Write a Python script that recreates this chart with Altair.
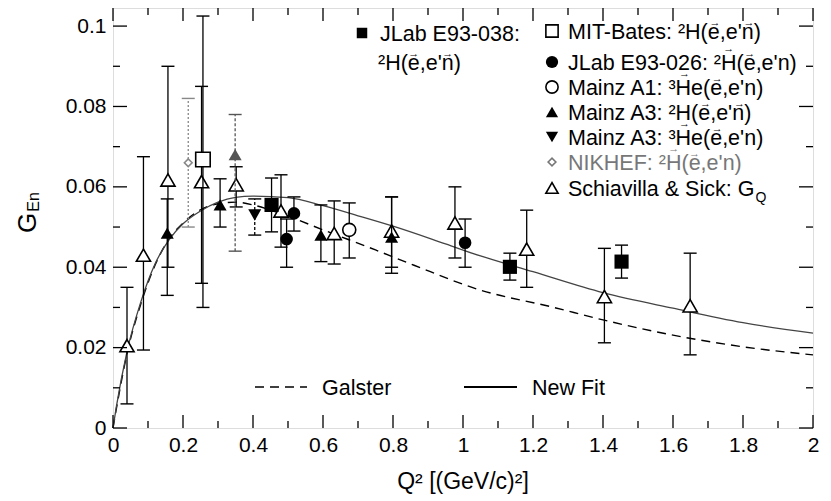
import altair as alt
import pandas as pd

FONT = "Liberation Sans"
W, H = 700, 420
X_DOMAIN = [0, 2]
Y_DOMAIN = [0, 0.1045]

x_major = [0, 0.2, 0.4, 0.6, 0.8, 1.0, 1.2, 1.4, 1.6, 1.8, 2.0]
x_minor = [0.1, 0.3, 0.5, 0.7, 0.9, 1.1, 1.3, 1.5, 1.7, 1.9]
y_major = [0, 0.02, 0.04, 0.06, 0.08, 0.1]
y_minor = [0.01, 0.03, 0.05, 0.07, 0.09]

# ---- data (Q^2, G_En, lower, upper) ----
jlab038_q2 = [0.453, 1.134, 1.453]
jlab038_gen = [0.0555, 0.0401, 0.0414]
jlab038_lo = [0.0488, 0.0368, 0.0373]
jlab038_hi = [0.0622, 0.0435, 0.0455]

mit_q2 = [0.257]
mit_gen = [0.0668]
mit_lo = [0.030]
mit_hi = [0.1025]

jlab026_q2 = [0.496, 0.517, 1.006]
jlab026_gen = [0.047, 0.0534, 0.0461]
jlab026_lo = [0.040, 0.049, 0.040]
jlab026_hi = [0.052, 0.0575, 0.052]

mainzA1_q2 = [0.675]
mainzA1_gen = [0.0493]
mainzA1_lo = [0.0423]
mainzA1_hi = [0.056]

mainzA3d_q2 = [0.155, 0.306, 0.594, 0.796]
mainzA3d_gen = [0.0485, 0.0555, 0.048, 0.0475]
mainzA3d_lo = [0.033, 0.050, 0.0414, 0.0385]
mainzA3d_hi = [0.057, 0.062, 0.0555, 0.0575]

mainzA3d_faint_q2 = [0.349]
mainzA3d_faint_gen = [0.068]
mainzA3d_faint_lo = [0.044]
mainzA3d_faint_hi = [0.078]

mainzA3he_q2 = [0.405]
mainzA3he_gen = [0.053]
mainzA3he_lo = [0.048]
mainzA3he_hi = [0.057]

nikhef_q2 = [0.215]
nikhef_gen = [0.066]
nikhef_lo = [0.050]
nikhef_hi = [0.082]

ss_q2 = [0.040, 0.087, 0.157, 0.253, 0.352, 0.48, 0.632, 0.796, 0.977, 1.182, 1.404, 1.649]
ss_gen = [0.0205, 0.043, 0.0617, 0.0613, 0.0605, 0.054, 0.0484, 0.049, 0.051, 0.0445, 0.0327, 0.0304]
ss_lo = [0.006, 0.0194, 0.040, 0.036, 0.055, 0.045, 0.0408, 0.040, 0.0423, 0.035, 0.0212, 0.0182]
ss_hi = [0.035, 0.0675, 0.090, 0.085, 0.065, 0.063, 0.0565, 0.0575, 0.060, 0.0542, 0.0447, 0.0435]

galster_q2 = [0, 0.01, 0.04, 0.08, 0.12, 0.16, 0.2, 0.25, 0.3, 0.35, 0.4, 0.45, 0.5, 0.6,
              0.75, 0.86, 1.05, 1.25, 1.4, 1.6, 1.8, 2.0]
galster_gen = [0, 0.005, 0.0185, 0.031, 0.0405, 0.047, 0.051, 0.0543, 0.0558, 0.0562, 0.0555,
               0.0542, 0.0527, 0.0493, 0.0443, 0.0405, 0.0343, 0.0302, 0.0269, 0.0231, 0.0202, 0.0182]

newfit_q2 = [0, 0.01, 0.04, 0.08, 0.12, 0.16, 0.2, 0.25, 0.3, 0.35, 0.4, 0.5, 0.6, 0.7, 0.8,
             0.95, 1.05, 1.2, 1.4, 1.6, 1.8, 2.0]
newfit_gen = [0, 0.0055, 0.019, 0.0315, 0.0408, 0.0468, 0.0508, 0.054, 0.0562, 0.0574, 0.0577,
              0.0573, 0.0553, 0.0528, 0.0502, 0.0458, 0.0428, 0.0389, 0.0337, 0.0298, 0.0262, 0.0236]

xs = alt.Scale(domain=X_DOMAIN, nice=False, zero=False)
ys = alt.Scale(domain=Y_DOMAIN, nice=False, zero=False)
axis_x = alt.Axis(values=x_major, format="~g", ticks=False, grid=False, domain=False,
                  labelFont=FONT, labelFontSize=21, labelColor="black", labelPadding=6,
                  title=None, labelFlush=False)
axis_y = alt.Axis(values=y_major, format="~g", ticks=False, grid=False, domain=False,
                  labelFont=FONT, labelFontSize=21, labelColor="black", labelPadding=7,
                  title=None, labelFlush=False)


def X(field):
    return alt.X(field, scale=xs, axis=axis_x)


def Y(field):
    return alt.Y(field, scale=ys, axis=axis_y)


layers = []

gal_df = pd.DataFrame({"q2": galster_q2, "gen": galster_gen})
new_df = pd.DataFrame({"q2": newfit_q2, "gen": newfit_gen})
layers.append(alt.Chart(gal_df).mark_line(color="black", strokeWidth=1.4, strokeDash=[9, 6],
                                          interpolate="monotone").encode(x=X("q2:Q"), y=Y("gen:Q")))
layers.append(alt.Chart(new_df).mark_line(color="#444444", strokeWidth=1.3,
                                          interpolate="monotone").encode(x=X("q2:Q"), y=Y("gen:Q")))


def series(q2, gen, lo, hi, shape, filled, size, color="black", dash=None):
    df = pd.DataFrame({"q2": q2, "gen": gen, "lo": lo, "hi": hi})
    b = alt.Chart(df)
    rule_kw = dict(color=color, strokeWidth=1.3)
    if dash:
        rule_kw["strokeDash"] = dash
    out = [
        b.mark_rule(**rule_kw).encode(x=X("q2:Q"), y=Y("lo:Q"), y2="hi:Q"),
        b.mark_tick(orient="horizontal", size=13, thickness=1.4, color=color, opacity=1).encode(
            x=X("q2:Q"), y=Y("lo:Q")),
        b.mark_tick(orient="horizontal", size=13, thickness=1.4, color=color, opacity=1).encode(
            x=X("q2:Q"), y=Y("hi:Q")),
    ]
    if filled:
        pm = b.mark_point(shape=shape, filled=True, color=color, size=size, opacity=1)
    else:
        pm = b.mark_point(shape=shape, filled=True, fill="white", stroke=color,
                          strokeWidth=1.6, size=size, opacity=1)
    out.append(pm.encode(x=X("q2:Q"), y=Y("gen:Q")))
    return out


layers += series(ss_q2, ss_gen, ss_lo, ss_hi, "triangle-up", False, 200)
layers += series(nikhef_q2, nikhef_gen, nikhef_lo, nikhef_hi, "diamond", False, 60, "#888888", [2, 2])
layers += series(mainzA3d_faint_q2, mainzA3d_faint_gen, mainzA3d_faint_lo, mainzA3d_faint_hi,
                 "triangle-up", True, 170, "#555555", [3, 2])
layers += series(mit_q2, mit_gen, mit_lo, mit_hi, "square", False, 210)
layers += series(mainzA3d_q2, mainzA3d_gen, mainzA3d_lo, mainzA3d_hi, "triangle-up", True, 170)
layers += series(mainzA3he_q2, mainzA3he_gen, mainzA3he_lo, mainzA3he_hi, "triangle-down", True, 170,
                 "black", [3, 2])
layers += series(mainzA1_q2, mainzA1_gen, mainzA1_lo, mainzA1_hi, "circle", False, 170)
layers += series(jlab038_q2, jlab038_gen, jlab038_lo, jlab038_hi, "square", True, 200)
layers += series(jlab026_q2, jlab026_gen, jlab026_lo, jlab026_hi, "circle", True, 160)


def tick_layers(vals, axis, length):
    df = pd.DataFrame({"v": vals})
    c = alt.Chart(df)
    kw = dict(color="black", strokeWidth=1.3)
    if axis == "x":
        return [c.mark_rule(**kw).encode(x=X("v:Q"), y=alt.value(H), y2=alt.value(H - length)),
                c.mark_rule(**kw).encode(x=X("v:Q"), y=alt.value(0), y2=alt.value(length))]
    return [c.mark_rule(**kw).encode(y=Y("v:Q"), x=alt.value(0), x2=alt.value(length)),
            c.mark_rule(**kw).encode(y=Y("v:Q"), x=alt.value(W), x2=alt.value(W - length))]


layers += tick_layers(x_major, "x", 13)
layers += tick_layers(x_minor, "x", 7)
layers += tick_layers(y_major, "y", 14)
layers += tick_layers(y_minor, "y", 7)

# ---- legend ----
ARIAL = {'M': 833, 'I': 278, 'T': 611, '-': 333, 'B': 667, 'a': 556, 't': 278, 'e': 556, 's': 500,
         ':': 278, ' ': 278, '\u00b2': 333, '\u00b3': 333, 'H': 722, '(': 333, ',': 278, "'": 191,
         'n': 556, ')': 333, 'J': 500, 'L': 556, 'b': 556, 'E': 667, 'A': 667, 'z': 500, 'i': 222,
         'N': 722, 'K': 667, 'F': 611, 'S': 667, 'c': 500, 'h': 556, 'v': 500, 'l': 222, '&': 667,
         'G': 778, 'k': 500, 'Q': 778}
for d in "0123456789":
    ARIAL[d] = 556

LEG_SIZE = 21.5


def txt(label, px, py, size=LEG_SIZE, color="black", angle=0, align="left", baseline="middle"):
    df = pd.DataFrame({"t": [label]})
    kw = dict(font=FONT, fontSize=size, color=color, align=align, baseline=baseline)
    if angle:
        kw["angle"] = angle
    return alt.Chart(df).mark_text(**kw).encode(text="t:N", x=alt.value(px), y=alt.value(py))


def rich(label, px, cy, color="black", size=LEG_SIZE):
    """label with '^' after a letter meaning a vector arrow above it"""
    plain = ""
    arrows = []
    for ch in label:
        if ch == "^":
            prev = plain[-1]
            left = sum(ARIAL.get(c, 556) for c in plain[:-1]) * size / 1000
            w = ARIAL.get(prev, 556) * size / 1000
            arrows.append((px + left + w / 2, prev.isupper()))
        else:
            plain += ch
    base = cy + 0.358 * size
    out = [txt(plain, px, base, size=size, color=color, baseline="alphabetic")]
    for ax, upper in arrows:
        ay = base - (0.716 * size + 5 if upper else 0.519 * size + 5)
        out.append(txt("\u2192", ax, ay, size=11, color=color, align="center", baseline="middle"))
    return out


def sym(shape, filled, px, py, size, color="black"):
    df = pd.DataFrame({"t": [0]})
    if filled:
        m = alt.Chart(df).mark_point(shape=shape, filled=True, color=color, size=size, opacity=1)
    else:
        m = alt.Chart(df).mark_point(shape=shape, filled=True, fill="white", stroke=color,
                                     strokeWidth=1.6, size=size, opacity=1)
    return m.encode(x=alt.value(px), y=alt.value(py))


legend_rows = [
    ("square", False, "MIT-Bates: \u00b2H(e^,e'n^)", "black"),
    ("circle", True, "JLab E93-026: \u00b2H^(e^,e'n)", "black"),
    ("circle", False, "Mainz A1: \u00b3H^e(e^,e'n)", "black"),
    ("triangle-up", True, "Mainz A3: \u00b2H(e^,e'n^)", "black"),
    ("triangle-down", True, "Mainz A3: \u00b3H^e(e^,e'n)", "black"),
    ("diamond", False, "NIKHEF: \u00b2H^(e^,e'n)", "#777777"),
    ("triangle-up", False, "Schiavilla & Sick: G", "black"),
]
row_y = [23, 54, 79, 104, 129, 154, 180]
for (shape, filled, label, color), py in zip(legend_rows, row_y):
    layers.append(sym(shape, filled, 439, py, 60 if shape == "diamond" else 150, color))
    layers += rich(label, 455, py, color=color)
gq_end = 455 + sum(ARIAL[c] for c in "Schiavilla & Sick: G") * LEG_SIZE / 1000
layers.append(txt("Q", gq_end + 1, 190, size=14))

layers.append(sym("square", True, 249, 25, 110))
layers += rich("JLab E93-038:", 267, 25)
layers += rich("\u00b2H(e^,e'n^)", 265, 54)

# bottom curve legend
leg_line = pd.DataFrame({"t": [0]})
layers.append(alt.Chart(leg_line).mark_rule(color="black", strokeWidth=1.6, strokeDash=[9, 6]).encode(
    x=alt.value(142), x2=alt.value(194), y=alt.value(379)))
layers.append(txt("Galster", 209, 381))
layers.append(alt.Chart(leg_line).mark_rule(color="black", strokeWidth=1.8).encode(
    x=alt.value(351), x2=alt.value(404), y=alt.value(379)))
layers.append(txt("New Fit", 419, 381))

# axis titles
layers.append(txt("Q\u00b2 [(GeV/c)\u00b2]", 350, 474, size=23, align="center"))
layers.append(txt("G", -85, 215, size=26, angle=270, align="center"))
layers.append(txt("En", -79, 194, size=16, angle=270, align="center"))

chart = alt.layer(*layers).properties(
    width=W, height=H,
    autosize=alt.AutoSizeParams(type="none"),
    padding={"left": 105, "top": 0, "right": 10, "bottom": 70},
).configure_view(stroke="black", strokeWidth=1.5).configure(background="white")

chart.save("out.html", embed_options={"renderer": "svg", "actions": False})
